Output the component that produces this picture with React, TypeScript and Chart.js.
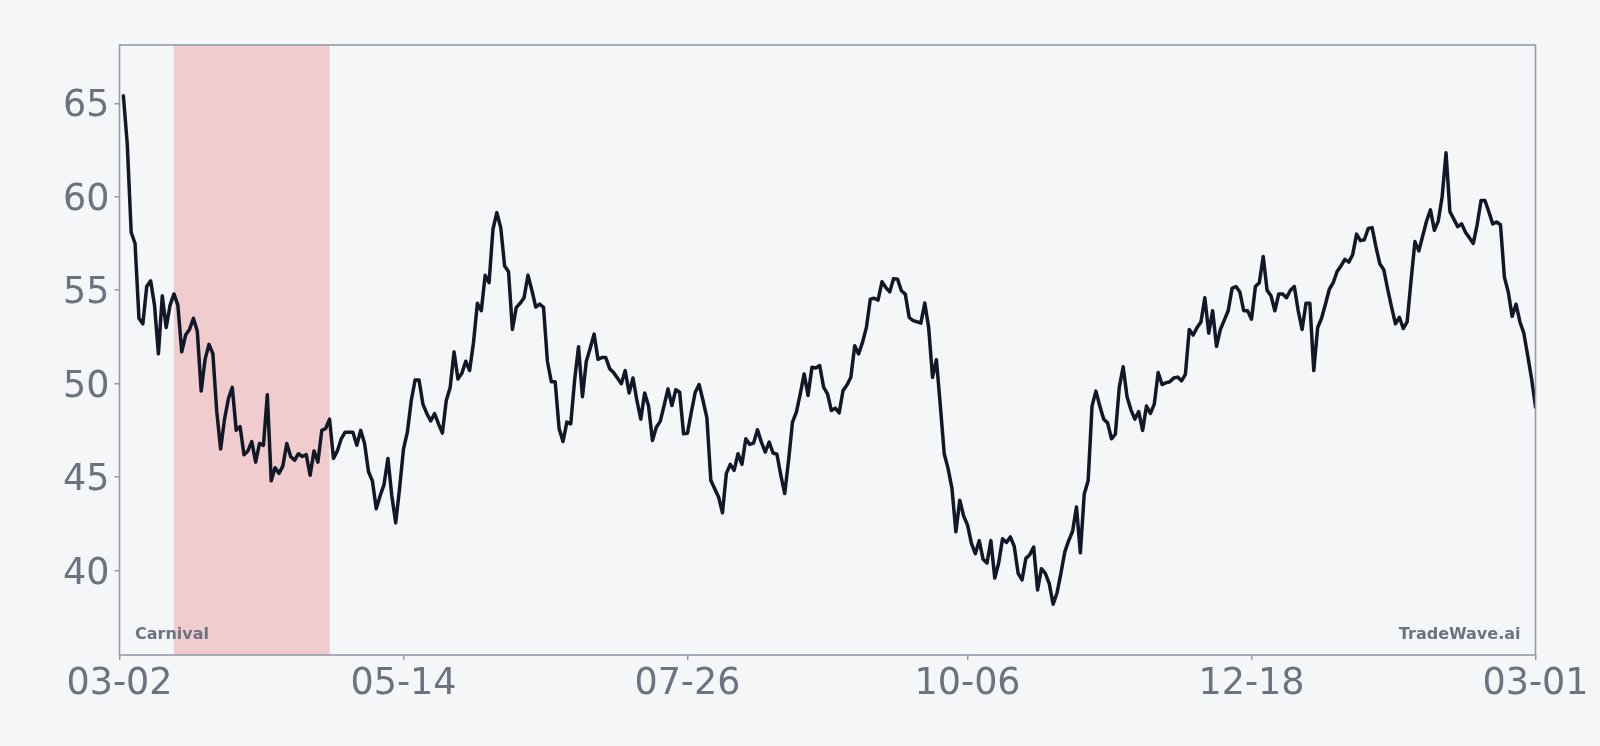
import React, { useEffect, useRef } from 'react';
import { Chart, registerables } from 'chart.js';

Chart.register(...registerables);

// Daily index values, day 1 .. day 364 (day 0 = 03-02)
const values: number[] = [
  65.4, 62.8, 58.1, 57.5, 53.5, 53.2, 55.2, 55.5, 54.2, 51.6,
  54.7, 53.0, 54.2, 54.8, 54.2, 51.7, 52.6, 52.9, 53.5, 52.8,
  49.6, 51.3, 52.1, 51.6, 48.5, 46.5, 48.1, 49.2, 49.8, 47.5,
  47.7, 46.2, 46.4, 46.9, 45.8, 46.8, 46.7, 49.4, 44.8, 45.5,
  45.2, 45.6, 46.8, 46.1, 45.9, 46.25, 46.1, 46.2, 45.1, 46.4,
  45.8, 47.5, 47.6, 48.1, 46.0, 46.4, 47.05, 47.4, 47.4, 47.4,
  46.7, 47.5, 46.8, 45.3, 44.8, 43.3, 44.0, 44.6, 46.0, 44.0,
  42.55, 44.4, 46.5, 47.4, 49.1, 50.2, 50.2, 48.9, 48.4, 48.0,
  48.4, 47.85, 47.35, 49.1, 49.8, 51.7, 50.25, 50.55, 51.2, 50.7,
  52.2, 54.3, 53.9, 55.8, 55.4, 58.26, 59.15, 58.35, 56.3, 56.0,
  52.9, 54.08, 54.3, 54.6, 55.8, 55.0, 54.1, 54.26, 54.08, 51.2,
  50.1, 50.1, 47.6, 46.9, 47.94, 47.85, 50.2, 51.98, 49.3, 51.2,
  51.9, 52.65, 51.3, 51.4, 51.4, 50.8, 50.6, 50.3, 50.0, 50.7,
  49.5, 50.3, 49.1, 48.1, 49.5, 48.8, 46.96, 47.67, 47.98, 48.83,
  49.72, 48.83, 49.67, 49.54, 47.32, 47.35, 48.48, 49.54, 49.95, 49.1,
  48.17, 44.83, 44.38, 43.94, 43.09, 45.2, 45.68, 45.36, 46.25, 45.68,
  47.05, 46.75, 46.82, 47.53, 46.87, 46.34, 46.87, 46.29, 46.22, 45.1,
  44.12, 45.9, 47.94, 48.48, 49.45, 50.52, 49.37, 50.88, 50.84, 50.97,
  49.81, 49.45, 48.56, 48.69, 48.44, 49.63, 49.93, 50.34, 52.03, 51.59,
  52.21, 53.01, 54.52, 54.57, 54.47, 55.45, 55.14, 54.91, 55.62, 55.59,
  54.97, 54.79, 53.54, 53.37, 53.31, 53.24, 54.31, 53.01, 50.34, 51.28,
  48.83, 46.25, 45.45, 44.38, 42.07, 43.76, 42.92, 42.43, 41.45, 40.9,
  41.6, 40.6, 40.4, 41.6, 39.6, 40.4, 41.7, 41.5, 41.8, 41.3,
  39.85, 39.5, 40.65, 40.85, 41.25, 38.96, 40.1, 39.85, 39.3, 38.2,
  38.8, 39.85, 41.0, 41.6, 42.1, 43.4, 40.95, 44.1, 44.8, 48.8,
  49.6, 48.8, 48.1, 47.9, 47.05, 47.3, 49.8, 50.9, 49.3, 48.6,
  48.1, 48.5, 47.5, 48.8, 48.4, 48.9, 50.6, 49.95, 50.05, 50.1,
  50.3, 50.35, 50.15, 50.5, 52.9, 52.6, 53.0, 53.3, 54.6, 52.7,
  53.9, 52.0, 52.9, 53.4, 53.9, 55.1, 55.2, 54.9, 53.9, 53.9,
  53.45, 55.2, 55.4, 56.8, 55.0, 54.7, 53.9, 54.8, 54.8, 54.6,
  55.0, 55.2, 53.9, 52.9, 54.3, 54.3, 50.7, 53.0, 53.5, 54.25,
  55.05, 55.4, 56.0, 56.3, 56.65, 56.5, 56.9, 58.0, 57.65, 57.7,
  58.3, 58.35, 57.3, 56.4, 56.1, 55.05, 54.1, 53.2, 53.55, 52.95,
  53.3, 55.5, 57.6, 57.1, 57.9, 58.7, 59.3, 58.2, 58.7, 60.0,
  62.35, 59.2, 58.8, 58.4, 58.55, 58.1, 57.8, 57.5, 58.5, 59.8,
  59.8, 59.2, 58.55, 58.65, 58.5, 55.7, 54.9, 53.6, 54.25, 53.3,
  52.7, 51.5, 50.25, 48.75,
];
const firstDay = 1;

const xTickDays: number[] = [0, 73, 146, 218, 291, 364];
const xTickLabels: string[] = ['03-02', '05-14', '07-26', '10-06', '12-18', '03-01'];
const yTickValues: number[] = [40, 45, 50, 55, 60, 65];

const carnivalDays: number[] = [14, 54];
const carnivalLabel = 'Carnival';
const watermark = 'TradeWave.ai';

const BG = '#f5f6f8';
const TEXT = '#6b7280';
const FRAME = '#959bab';
const LINE = '#111827';

export default function App() {
  const ref = useRef<HTMLCanvasElement>(null);

  useEffect(() => {
    if (!ref.current) return;
    const lo = Math.min(...values);
    const hi = Math.max(...values);
    const pad = (hi - lo) * 0.1;

    const shading = {
      id: 'shading',
      beforeDatasetsDraw(chart: any) {
        const { ctx, chartArea: a, scales } = chart;
        const x0 = scales.x.getPixelForValue(carnivalDays[0]);
        const x1 = scales.x.getPixelForValue(carnivalDays[1]);
        ctx.save();
        ctx.fillStyle = 'rgba(220,38,38,0.2)';
        ctx.fillRect(x0, a.top, x1 - x0, a.bottom - a.top);
        ctx.restore();
      },
    };

    const frame = {
      id: 'frame',
      afterDraw(chart: any) {
        const { ctx, chartArea: a } = chart;
        ctx.save();
        ctx.strokeStyle = FRAME;
        ctx.lineWidth = 1.6;
        ctx.strokeRect(a.left, a.top, a.right - a.left, a.bottom - a.top);
        ctx.fillStyle = TEXT;
        ctx.font = 'bold 16px "DejaVu Sans"';
        ctx.textBaseline = 'middle';
        ctx.textAlign = 'left';
        ctx.fillText(carnivalLabel, a.left + 15.5, a.bottom - 20);
        ctx.textAlign = 'right';
        ctx.fillText(watermark, a.right - 15, a.bottom - 20);
        ctx.restore();
      },
    };

    const chart = new Chart(ref.current, {
      type: 'line',
      data: {
        datasets: [
          {
            data: values.map((v, i) => ({ x: i + firstDay, y: v })),
            borderColor: LINE,
            borderWidth: 3.5,
            pointRadius: 0,
            tension: 0,
            borderJoinStyle: 'round',
            borderCapStyle: 'round',
            fill: false,
          },
        ],
      },
      options: {
        animation: false,
        responsive: false,
        devicePixelRatio: 1,
        layout: { padding: { left: 0, top: 45, right: 64.5, bottom: 0 } },
        plugins: { legend: { display: false }, tooltip: { enabled: false } },
        scales: {
          x: {
            type: 'linear',
            min: xTickDays[0],
            max: xTickDays[xTickDays.length - 1],
            afterBuildTicks: (scale: any) => {
              scale.ticks = xTickDays.map((v) => ({ value: v }));
            },
            afterFit: (scale: any) => {
              scale.height = 91;
            },
            ticks: {
              autoSkip: false,
              maxRotation: 0,
              padding: 3,
              color: TEXT,
              font: { family: '"DejaVu Sans"', size: 36.5 },
              callback: (v: any) => {
                const i = xTickDays.indexOf(Number(v));
                return i >= 0 ? xTickLabels[i] : '';
              },
            },
            grid: { display: true, drawOnChartArea: false, drawTicks: true, tickLength: 5, color: FRAME, lineWidth: 1.5 },
            border: { display: false },
          },
          y: {
            type: 'linear',
            min: lo - pad,
            max: hi + pad,
            afterBuildTicks: (scale: any) => {
              scale.ticks = yTickValues.map((v) => ({ value: v }));
            },
            afterFit: (scale: any) => {
              scale.width = 119.5;
            },
            ticks: {
              padding: 5,
              labelOffset: 3.5,
              color: TEXT,
              font: { family: '"DejaVu Sans"', size: 36.5 },
              callback: (v: any) => String(v),
            },
            grid: { display: true, drawOnChartArea: false, drawTicks: true, tickLength: 5, color: FRAME, lineWidth: 1.5 },
            border: { display: false },
          },
        },
      },
      plugins: [shading, frame],
    });

    return () => chart.destroy();
  }, []);

  return (
    <div style={{ position: 'fixed', left: 0, top: 0, width: 1600, height: 746, background: BG }}>
      <canvas ref={ref} width={1600} height={746} style={{ display: 'block', width: 1600, height: 746 }} />
    </div>
  );
}
